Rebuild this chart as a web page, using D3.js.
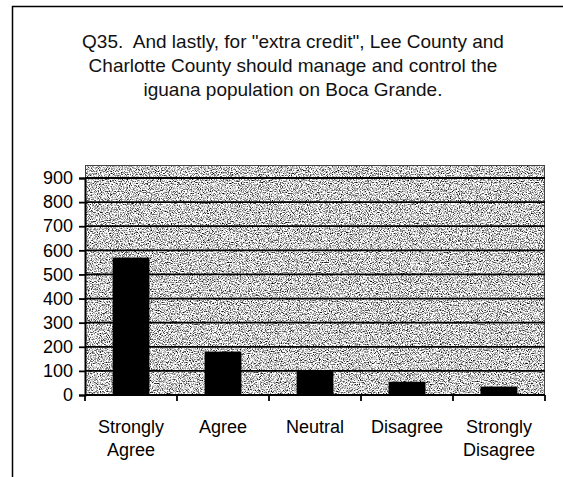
<!DOCTYPE html>
<html>
<head>
<meta charset="utf-8">
<script src="https://cdn.jsdelivr.net/npm/d3@7"></script>
<style>
  body { margin: 0; background: #fff; }
  svg { display: block; }
</style>
</head>
<body>
<script>
// data
const categories = ["Strongly Agree", "Agree", "Neutral", "Disagree", "Strongly Disagree"];
const responses = [570, 180, 100, 55, 35];
const yTicks = [0, 100, 200, 300, 400, 500, 600, 700, 800, 900];
const titleLines = [
    "Q35.\u00a0 And lastly, for \"extra credit\", Lee County and",
    "Charlotte County should manage and control the",
    "iguana population on Boca Grande."
];

const width = 563, height = 477;
const margin = { top: 178, right: 18, bottom: 82, left: 85 };
const plotW = width - margin.left - margin.right;
const plotH = height - margin.top - margin.bottom;

const svg = d3.select("body").append("svg")
    .attr("width", width)
    .attr("height", height)
    .style("font-family", "'Liberation Sans', Arial, sans-serif");

// grainy gray fill like the scanned plot area
const defs = svg.append("defs");
const filt = defs.append("filter").attr("id", "grain")
    .attr("x", 0).attr("y", 0).attr("width", 1).attr("height", 1)
    .attr("color-interpolation-filters", "sRGB");
filt.append("feTurbulence")
    .attr("type", "fractalNoise")
    .attr("baseFrequency", 0.9)
    .attr("numOctaves", 2)
    .attr("seed", 7)
    .attr("result", "noise");
filt.append("feColorMatrix")
    .attr("in", "noise")
    .attr("type", "matrix")
    .attr("values", "2.7 0 0 0 -0.54  2.7 0 0 0 -0.54  2.7 0 0 0 -0.54  0 0 0 0 1")
    .attr("result", "grey");
filt.append("feComposite")
    .attr("in", "grey").attr("in2", "SourceGraphic").attr("operator", "in");

// outer frame (left and top edges only visible)
svg.append("path")
    .attr("d", "M12.5," + height + "V6.5H" + width)
    .attr("fill", "none")
    .attr("stroke", "#000")
    .attr("stroke-width", 1.5);

// title
svg.append("text")
    .attr("text-anchor", "middle")
    .style("font-size", "19px")
    .attr("fill", "#111")
    .selectAll("tspan")
    .data(titleLines).enter()
    .append("tspan")
    .attr("x", 293)
    .attr("y", (d, i) => 48 + i * 24)
    .text(d => d);

const g = svg.append("g")
    .attr("transform", "translate(" + margin.left + "," + margin.top + ")");

const x = d3.scaleBand()
    .domain(categories)
    .range([0, plotW])
    .paddingInner(0.6)
    .paddingOuter(0.3);

const y = d3.scaleLinear()
    .domain([0, 900])
    .range([plotH, 0]);

// plot background
g.append("rect")
    .attr("x", 0)
    .attr("y", -13)
    .attr("width", plotW)
    .attr("height", plotH + 13)
    .attr("fill", "#c8c8c8")
    .attr("filter", "url(#grain)");
g.append("rect")
    .attr("x", 0.5)
    .attr("y", -12.5)
    .attr("width", plotW - 1)
    .attr("height", plotH + 12)
    .attr("fill", "none")
    .attr("stroke", "#444")
    .attr("stroke-width", 1);

// gridlines
g.selectAll(".grid")
    .data(yTicks.filter(d => d > 0)).enter()
    .append("line")
    .attr("class", "grid")
    .attr("x1", 0).attr("x2", plotW)
    .attr("y1", d => y(d)).attr("y2", d => y(d))
    .attr("stroke", "#000")
    .attr("stroke-width", 1.8);

// bars
g.selectAll(".bar")
    .data(responses).enter()
    .append("rect")
    .attr("class", "bar")
    .attr("x", (d, i) => x(categories[i]))
    .attr("width", x.bandwidth())
    .attr("y", d => y(d))
    .attr("height", d => plotH - y(d))
    .attr("fill", "#000");

// y axis
const yAxis = g.append("g")
    .call(d3.axisLeft(y).tickValues(yTicks).tickSize(6).tickPadding(6));
yAxis.select(".domain").attr("stroke-width", 2);
yAxis.selectAll(".tick line").attr("stroke-width", 1.8);
yAxis.selectAll("text")
    .style("font-size", "18px")
    .style("font-family", "'Liberation Sans', Arial, sans-serif")
    .attr("fill", "#000");

// x axis: ticks on category boundaries
const step = x.step();
const xAxis = g.append("g")
    .attr("transform", "translate(0," + plotH + ")");
xAxis.append("line")
    .attr("x1", 0).attr("x2", plotW)
    .attr("stroke", "#000").attr("stroke-width", 2);
xAxis.selectAll(".xtick")
    .data(d3.range(categories.length + 1)).enter()
    .append("line")
    .attr("x1", i => i * step).attr("x2", i => i * step)
    .attr("y1", 0).attr("y2", 6)
    .attr("stroke", "#000").attr("stroke-width", 1.8);

const labels = xAxis.selectAll(".xlabel")
    .data(categories).enter()
    .append("text")
    .attr("text-anchor", "middle")
    .style("font-size", "18px")
    .attr("fill", "#000");
labels.each(function (d) {
    const cx = x(d) + x.bandwidth() / 2;
    const words = d.split(" ");
    d3.select(this).selectAll("tspan")
        .data(words).enter()
        .append("tspan")
        .attr("x", cx)
        .attr("y", (w, j) => 38 + j * 23)
        .text(w => w);
});
</script>
</body>
</html>
